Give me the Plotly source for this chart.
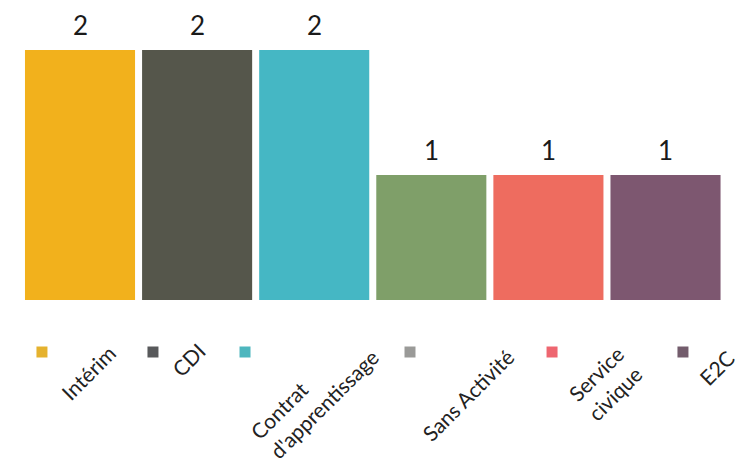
import plotly.graph_objects as go

categories = ["Intérim", "CDI", "Contrat<br>d'apprentissage", "Sans Activité", "Service<br>civique", "E2C"]
values = [2, 2, 2, 1, 1, 1]
bar_colors = ["#F2B11C", "#55564B", "#45B7C4", "#7F9F69", "#EE6C5F", "#7D5770"]
legend_colors = ["#E5B22E", "#58595B", "#4DB6BE", "#9A9A98", "#EE6670", "#735C6C"]

# layout-only offsets for the custom legend (in category units / axis units)
swatch_dx = [-0.325, -0.377, -0.591, -0.182, 0.031, 0.149]
swatch_y = -0.416
label_dx = [0.068, -0.077, 0.0, 0.313, 0.487, 0.435]
label_y = [-0.576, -0.472, -0.755, -0.752, -0.664, -0.536]

idx = list(range(len(categories)))

fig = go.Figure()
fig.add_trace(go.Bar(
    x=idx, y=values, marker=dict(color=bar_colors, line=dict(width=0)),
    width=0.94, hoverinfo="skip", showlegend=False,
))
fig.add_trace(go.Scatter(
    x=[i + d for i, d in zip(idx, swatch_dx)], y=[swatch_y] * len(idx),
    mode="markers", marker=dict(symbol="square", size=11, color=legend_colors),
    hoverinfo="skip", showlegend=False,
))

annotations = []
for i, v in zip(idx, values):
    annotations.append(dict(
        x=i, y=v, xref="x", yref="y", text=str(v), showarrow=False,
        yanchor="bottom", yshift=7,
        font=dict(family="Lato", size=26, color="#1a1a1a"),
    ))
for i, c in enumerate(categories):
    annotations.append(dict(
        x=i + label_dx[i], y=label_y[i], xref="x", yref="y", text=c,
        showarrow=False, textangle=-45, align="left",
        xanchor="center", yanchor="middle",
        font=dict(family="Lato", size=21, color="#222222"),
    ))

fig.update_layout(
    width=741, height=454,
    margin=dict(l=0, r=0, t=0, b=0, pad=0),
    paper_bgcolor="white", plot_bgcolor="white",
    xaxis=dict(range=[-0.615, 5.713], visible=False, fixedrange=True),
    yaxis=dict(range=[-1.296, 2.336], visible=False, fixedrange=True),
    annotations=annotations,
    showlegend=False,
)

fig.write_html("out.html")
